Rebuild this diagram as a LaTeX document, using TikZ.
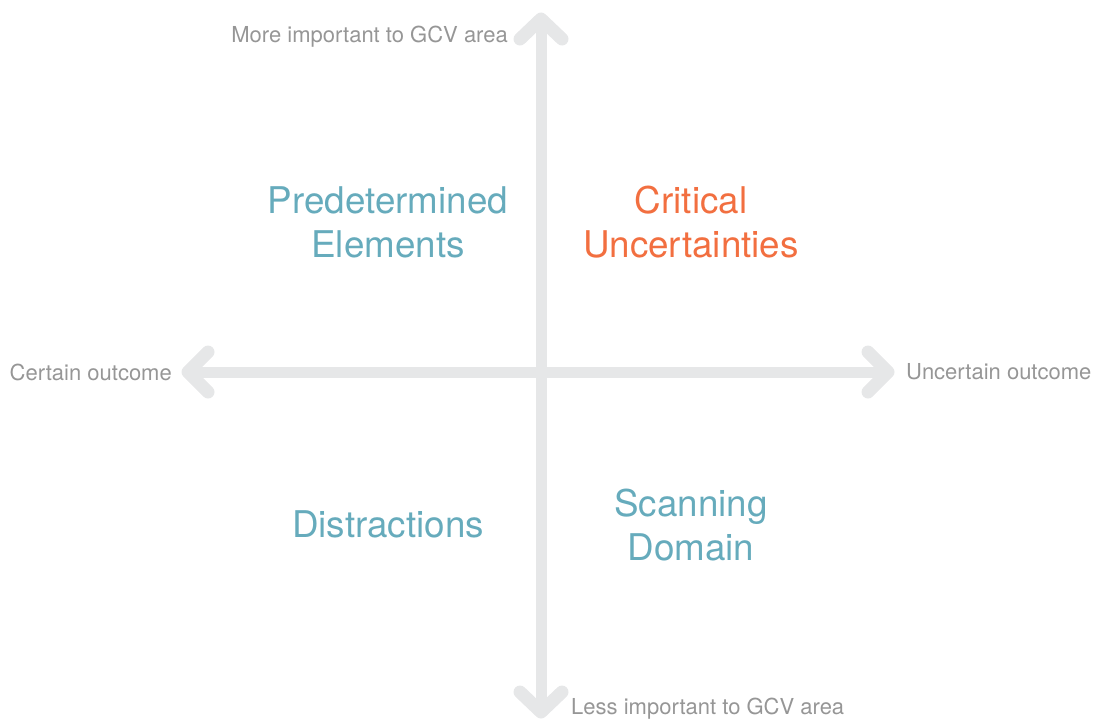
\documentclass[tikz,border=0pt]{standalone}
\usepackage{fontspec}
\setmainfont{TeX Gyre Heros}
\usetikzlibrary{positioning}

\definecolor{axisgray}{HTML}{E6E7E8}
\definecolor{labelgray}{HTML}{969696}
\definecolor{quadteal}{HTML}{66ABBC}
\definecolor{quadorange}{HTML}{F26F40}

\tikzset{
  axis/.style={draw=axisgray, line width=11pt},
  tip/.style={draw=axisgray, line width=13pt, line cap=round, line join=round},
  axislabel/.style={text=labelgray, inner sep=0pt, font=\fontsize{22}{26}\selectfont},
  quad/.style={text=quadteal, inner sep=0pt, align=center, font=\fontsize{36.8}{44}\selectfont},
}

\begin{document}
\begin{tikzpicture}[x=1pt, y=-1pt]
    \useasboundingbox (0,0) rectangle (1099,724);

    \coordinate (top) at (541,19);
    \coordinate (bottom) at (541,712);
    \coordinate (left) at (188,372);
    \coordinate (right) at (888,372);

    % axes
    \draw[axis] (top) -- (bottom);
    \draw[axis] (left) -- (right);
    \draw[tip] ([shift={(-21,20)}]top) -- (top) -- ([shift={(21,20)}]top);
    \draw[tip] ([shift={(-21,-20)}]bottom) -- (bottom) -- ([shift={(21,-20)}]bottom);
    \draw[tip] ([shift={(20,-20)}]left) -- (left) -- ([shift={(20,20)}]left);
    \draw[tip] ([shift={(-20,-20)}]right) -- (right) -- ([shift={(-20,20)}]right);

    \node[axislabel, anchor=east] (more) at (508,37) {More important to GCV area};
    \node[axislabel, anchor=west] (less) at (571,709) {Less important to GCV area};
    \node[axislabel, anchor=east] (certain) at (172,372) {Certain outcome};
    \node[axislabel, anchor=west] (uncertain) at (906,372) {Uncertain outcome};

    % quadrants
    \node[quad] (pred) at (388,222) {Predetermined\\Elements};
    \node[quad, text=quadorange] (crit) at (691,222) {Critical\\Uncertainties};
    \node[quad] (dist) at (388,524) {Distractions};
    \node[quad] (scan) at (691,525) {Scanning\\Domain};
\end{tikzpicture}
\end{document}
